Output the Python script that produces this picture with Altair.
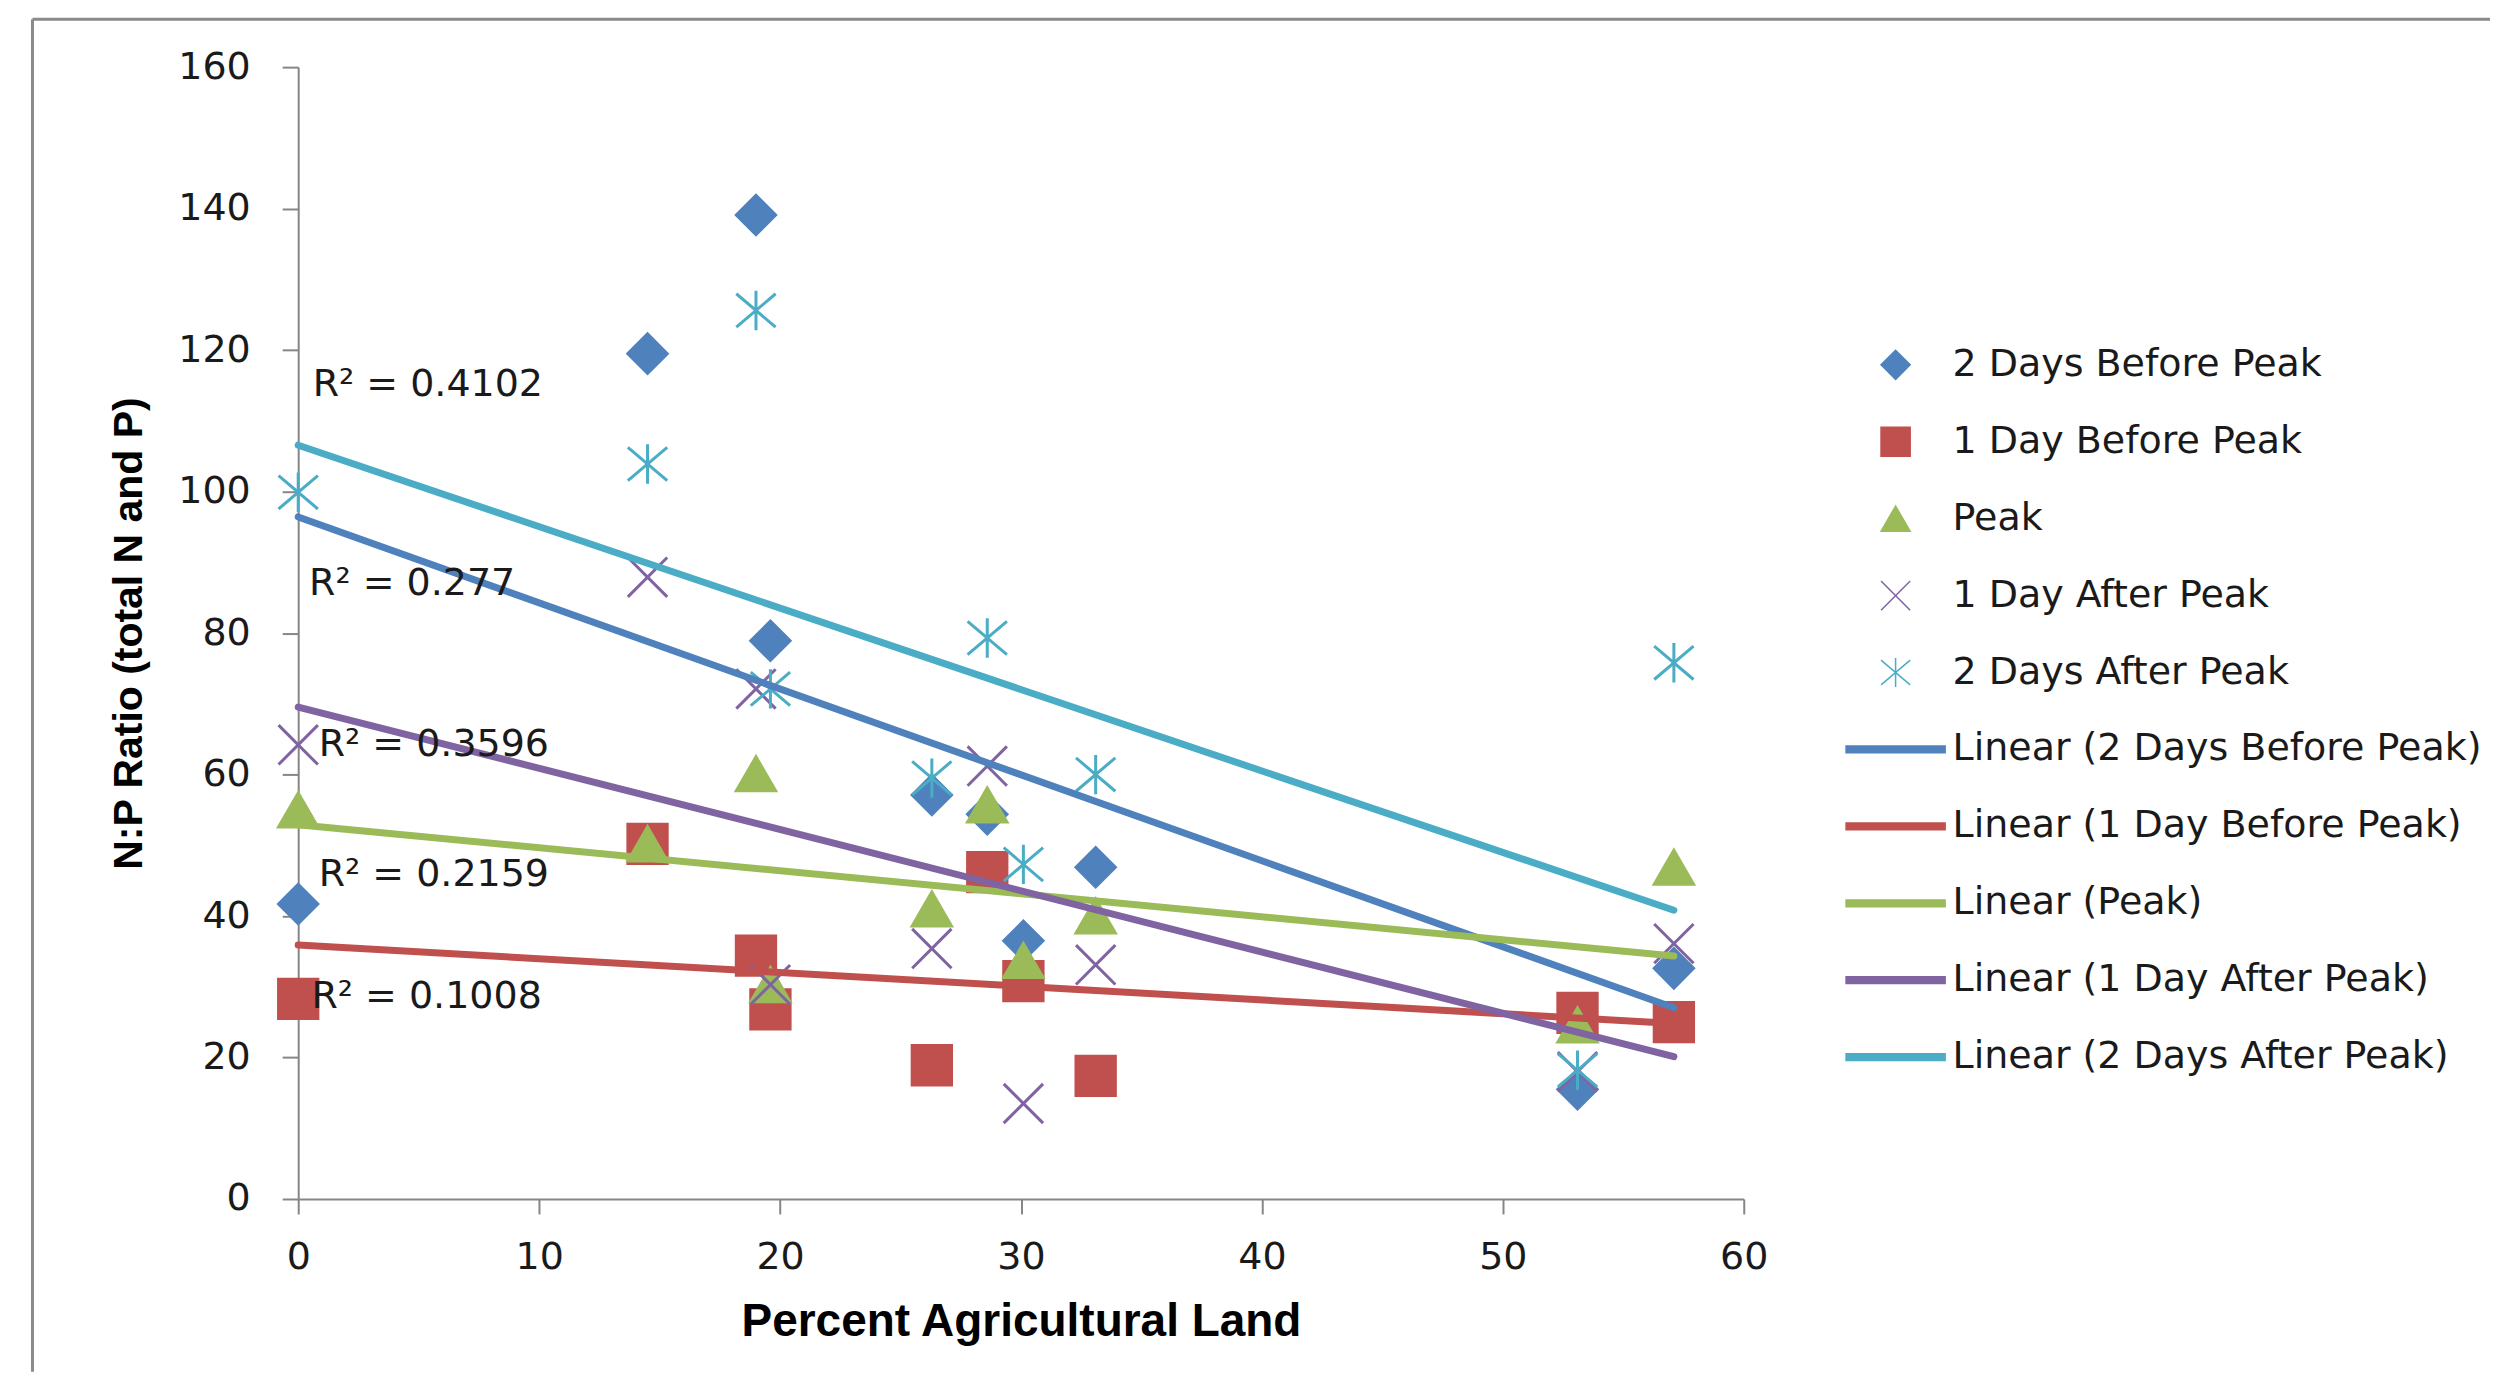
import altair as alt
import pandas as pd

# ---------------- data ----------------
series_names = ["2 Days Before Peak", "1 Day Before Peak", "Peak",
                "1 Day After Peak", "2 Days After Peak"]
pct_ag = [0, 14.5, 19.0, 19.6, 26.3, 28.6, 30.1, 33.1, 53.1, 57.1]
np_2_before = [41.7, 119.5, 139.1, 78.9, 57.1, 54.4, 36.5, 46.9, 15.5, 32.6]
np_1_before = [28.3, 50.2, 34.4, 26.8, 18.9, 46.2, 30.8, 17.4, 26.3, 25.0]
np_peak = [55.0, 50.2, 60.1, 30.3, 41.0, 55.7, 33.7, 40.0, 24.6, 46.9]
np_1_after = [64.2, 87.9, 72.1, 30.3, 35.4, 61.2, 13.5, 33.1, 18.0, 36.1]
np_2_after = [99.9, 103.9, 125.6, 72.1, 59.5, 79.3, 47.3, 60.0, 18.2, 75.8]
series_colors = ["#4F81BD", "#C0504D", "#9BBB59", "#8064A2", "#4BACC6"]

r2_labels = ["R\u00b2 = 0.4102", "R\u00b2 = 0.277", "R\u00b2 = 0.3596",
             "R\u00b2 = 0.2159", "R\u00b2 = 0.1008"]
r2_x = [0.6, 0.45, 0.85, 0.85, 0.55]
r2_y = [115.0, 87.0, 64.2, 45.8, 28.5]

x_ticks = [0, 10, 20, 30, 40, 50, 60]
y_ticks = [0, 20, 40, 60, 80, 100, 120, 140, 160]

# ---------------- tables ----------------
rows = []
for name, ys in zip(series_names, [np_2_before, np_1_before, np_peak, np_1_after, np_2_after]):
    for xv, yv in zip(pct_ag, ys):
        rows.append({"pct": xv, "ratio": yv, "entry": name})
df = pd.DataFrame(rows)
df_r2 = pd.DataFrame({"pct": r2_x, "ratio": r2_y, "label": r2_labels})

entries = series_names + ["Linear (" + s + ")" for s in series_names]
colors = series_colors + series_colors
X_PATH = "M-1,-1L1,1M-1,1L1,-1"
AST_PATH = "M0,-1L0,1M-1,-0.85L1,0.85M-1,0.85L1,-0.85"
LINE_PATH = "M-3.4,-0.23L3.4,-0.23L3.4,0.23L-3.4,0.23Z"
shapes = ["diamond", "square", "triangle-up", X_PATH, AST_PATH] + [LINE_PATH] * 5

color_scale = alt.Scale(domain=entries, range=colors)
shape_scale = alt.Scale(domain=entries, range=shapes)
leg = alt.Legend(title=None)

AXIS_GREY = "#868686"
x_axis = alt.Axis(values=x_ticks, title="Percent Agricultural Land", grid=False,
                  tickSize=15, tickWidth=2, tickColor=AXIS_GREY,
                  domainColor=AXIS_GREY, domainWidth=2, labelFlush=False,
                  labelFont="DejaVu Sans", labelFontSize=38, labelColor="#1a1a1a",
                  labelPadding=25, titleFont="Liberation Sans", titleFontWeight="bold",
                  titleFontSize=46, titleColor="#000000", titleY=123,
                  titleBaseline="middle")
y_axis = alt.Axis(values=y_ticks, title="N:P Ratio (total N and P)", grid=False,
                  tickSize=16, tickWidth=2, tickColor=AXIS_GREY,
                  domainColor=AXIS_GREY, domainWidth=2,
                  labelFont="DejaVu Sans", labelFontSize=38, labelColor="#1a1a1a",
                  labelPadding=32, titleFont="Liberation Sans", titleFontWeight="bold",
                  titleFontSize=41, titleColor="#000000", titleX=-169, titleY=566.5,
                  titleAngle=270, titleBaseline="middle", titleAlign="center")

x_enc = alt.X("pct:Q", scale=alt.Scale(domain=[0, 60], nice=False), axis=x_axis)
y_enc = alt.Y("ratio:Q", scale=alt.Scale(domain=[0, 160], nice=False), axis=y_axis)

points = alt.Chart(df).mark_point(filled=True, size=1550, strokeWidth=3, opacity=1).encode(
    x=x_enc, y=y_enc,
    shape=alt.Shape("entry:N", scale=shape_scale, legend=leg),
    fill=alt.Fill("entry:N", scale=color_scale, legend=leg),
    stroke=alt.Stroke("entry:N", scale=color_scale, legend=leg),
)

lines = alt.Chart(df).transform_regression(
    "pct", "ratio", groupby=["entry"]
).transform_calculate(
    entry='"Linear (" + datum.entry + ")"'
).mark_line(strokeWidth=7, strokeCap="round").encode(
    x="pct:Q", y="ratio:Q",
    stroke=alt.Stroke("entry:N", scale=color_scale, legend=leg),
)

labels = alt.Chart(df_r2).mark_text(align="left", baseline="middle", font="DejaVu Sans",
                                    fontSize=38, color="#1a1a1a").encode(
    x="pct:Q", y="ratio:Q", text="label:N")

frame_src = pd.DataFrame({"k": [0]})
frame_top = alt.Chart(frame_src).mark_rule(color="#8a8a8a", strokeWidth=3).encode(
    x=alt.value(-266), x2=alt.value(2194), y=alt.value(-48))
frame_left = alt.Chart(frame_src).mark_rule(color="#8a8a8a", strokeWidth=3).encode(
    x=alt.value(-266), y=alt.value(-48), y2=alt.value(1306))

chart = alt.layer(frame_top, frame_left, points, lines, labels).properties(
    width=1447, height=1133,
    padding={"left": 22.5, "top": 8.5, "right": 0, "bottom": 0},
    background="white",
).configure_view(stroke=None).configure_legend(
    orient="none", legendX=1580, legendY=279,
    labelFont="DejaVu Sans", labelFontSize=38, labelColor="#1a1a1a",
    labelLimit=1000, symbolSize=850, symbolStrokeWidth=1.5,
    rowPadding=39, labelOffset=38,
)

chart.save("out.html", embed_options={"renderer": "svg", "actions": False})
